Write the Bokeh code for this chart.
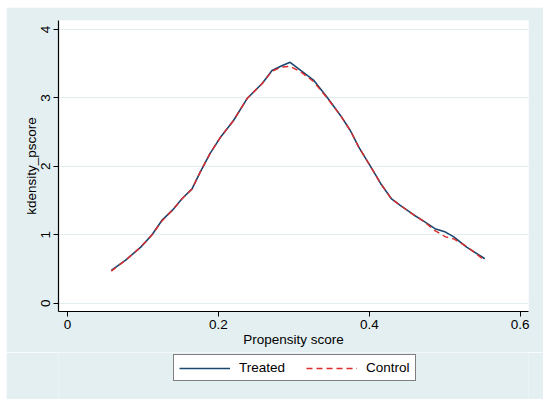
from bokeh.plotting import figure
from bokeh.models import Legend, LegendItem, FixedTicker, Range1d
from bokeh.layouts import column
from bokeh.embed import file_html
from bokeh.resources import INLINE

# propensity score grid
pscore = [0.058, 0.077, 0.097, 0.112, 0.125, 0.139, 0.152, 0.165, 0.176, 0.189,
          0.203, 0.220, 0.238, 0.258, 0.271, 0.284, 0.295, 0.309, 0.326, 0.344,
          0.362, 0.375, 0.386, 0.401, 0.415, 0.429, 0.441, 0.459, 0.472, 0.487,
          0.501, 0.512, 0.529, 0.549, 0.553]

treated = [0.48, 0.63, 0.82, 1.00, 1.21, 1.36, 1.53, 1.67, 1.92, 2.19,
           2.43, 2.67, 2.99, 3.21, 3.40, 3.47, 3.52, 3.40, 3.26, 3.01,
           2.74, 2.52, 2.28, 2.01, 1.75, 1.53, 1.43, 1.29, 1.20, 1.09,
           1.04, 0.97, 0.82, 0.68, 0.65]

control = [0.47, 0.63, 0.82, 1.00, 1.20, 1.36, 1.53, 1.67, 1.92, 2.19,
           2.43, 2.67, 2.99, 3.21, 3.39, 3.45, 3.46, 3.38, 3.24, 3.00,
           2.74, 2.52, 2.28, 2.01, 1.75, 1.53, 1.43, 1.29, 1.20, 1.06,
           0.97, 0.94, 0.83, 0.66, 0.62]

x_ticks = [0, 0.2, 0.4, 0.6]
x_tick_labels = ["0", "0.2", "0.4", "0.6"]
y_ticks = [0, 1, 2, 3, 4]

FONT = "Liberation Sans"
FSIZE = "13.5px"
BG = "#e4eff1"
BLUE = "#1a476f"
RED = "#dd2a2a"

p = figure(frame_width=470, frame_height=291, output_backend="svg",
           toolbar_location=None,
           x_range=Range1d(-0.012, 0.611), y_range=Range1d(-0.12, 4.13),
           min_border_left=52, min_border_right=15, min_border_top=13,
           min_border_bottom=41)
p.margin = (7, 0, 0, 6)
p.border_fill_color = BG
p.background_fill_color = "white"
p.outline_line_color = None

p.line(pscore, treated, line_color=BLUE, line_width=1.6)
p.line(pscore, control, line_color=RED, line_width=1.4, line_dash="6 4")

p.xgrid.visible = False
p.ygrid.grid_line_color = "#e3eef1"
p.ygrid.grid_line_width = 1

p.xaxis.ticker = FixedTicker(ticks=x_ticks)
p.xaxis.major_label_overrides = dict(zip(x_ticks, x_tick_labels))
p.yaxis.ticker = FixedTicker(ticks=y_ticks)
p.yaxis.major_label_orientation = "vertical"

p.xaxis.axis_label = "Propensity score"
p.yaxis.axis_label = "kdensity_pscore"

for ax in (p.xaxis, p.yaxis):
    ax.axis_line_color = "black"
    ax.axis_line_width = 1.2
    ax.major_tick_line_color = "black"
    ax.major_tick_out = 5
    ax.major_tick_in = 0
    ax.minor_tick_line_color = None
    ax.major_label_text_font = FONT
    ax.major_label_text_font_size = FSIZE
    ax.major_label_text_color = "black"
    ax.axis_label_text_font = FONT
    ax.axis_label_text_font_size = FSIZE
    ax.axis_label_text_font_style = "normal"
    ax.axis_label_text_color = "black"
    ax.major_label_standoff = 3
    ax.axis_label_standoff = 0

# legend strip under the chart (same background as the graph region)
leg = figure(width=537, height=47, output_backend="svg", toolbar_location=None,
             x_range=Range1d(0, 1), y_range=Range1d(0, 1),
             x_axis_location=None, y_axis_location=None, min_border=0)
leg.margin = (0, 0, 0, 6)
leg.border_fill_color = BG
leg.background_fill_color = BG
leg.outline_line_color = None
leg.grid.visible = False
# keys only: the lines sit outside the visible range
r1 = leg.line([2, 3], [2, 3], line_color=BLUE, line_width=1.6)
r2 = leg.line([2, 3], [2, 3], line_color=RED, line_width=1.4, line_dash="6 4")

legend = Legend(items=[LegendItem(label="Treated", renderers=[r1]),
                       LegendItem(label="Control", renderers=[r2])],
                orientation="horizontal", location=(115, 18))
legend.label_text_font = FONT
legend.label_text_font_size = FSIZE
legend.label_text_color = "black"
legend.border_line_color = "black"
legend.border_line_width = 1
legend.background_fill_color = "white"
legend.background_fill_alpha = 1
legend.glyph_width = 51
legend.glyph_height = 14
legend.label_standoff = 9
legend.spacing = 21
legend.padding = 5
legend.margin = 0
leg.add_layout(legend, "center")

layout = column(p, leg, spacing=0)
open("out.html", "w").write(file_html(layout, INLINE))
